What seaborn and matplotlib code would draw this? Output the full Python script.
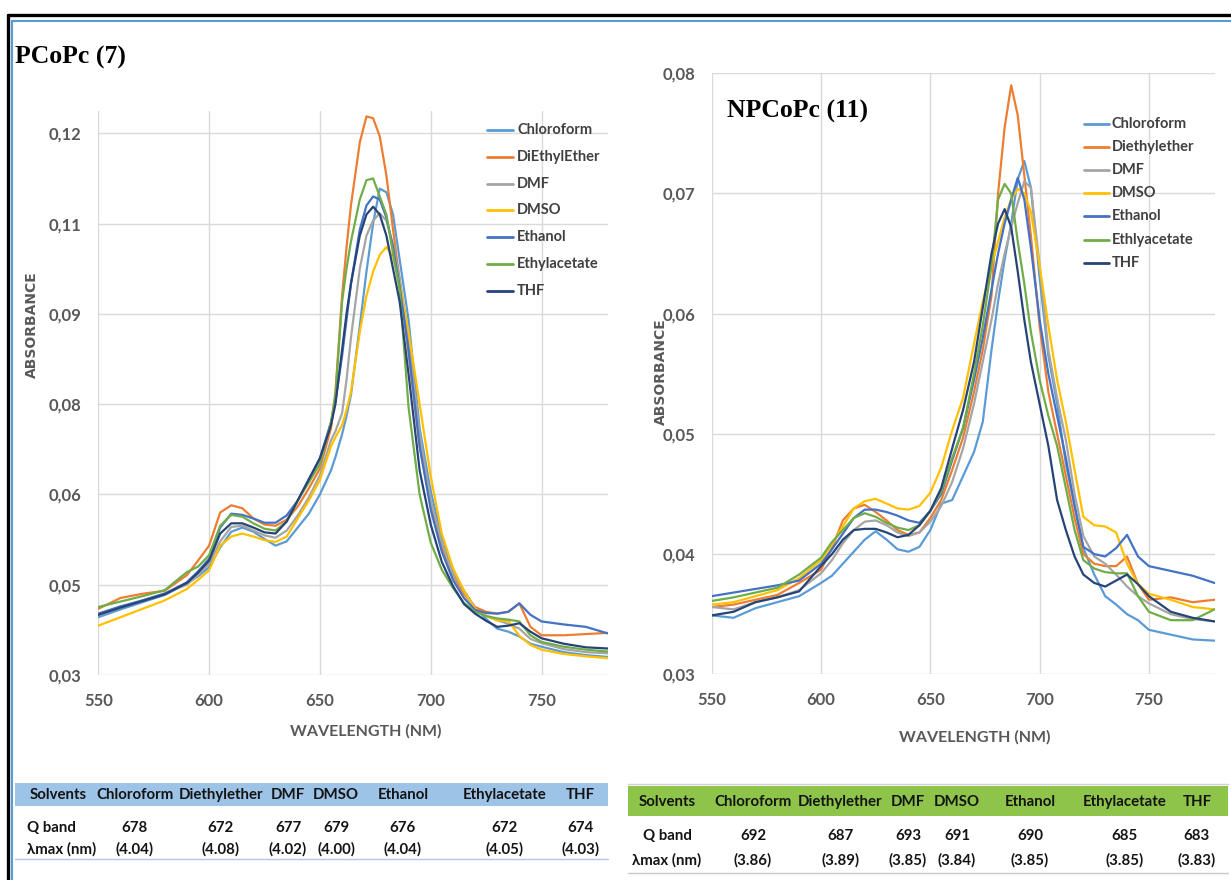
import pandas as pd
import matplotlib
matplotlib.use("Agg")
import matplotlib.pyplot as plt
from matplotlib.patches import Rectangle
from matplotlib.lines import Line2D
import seaborn as sns

# ---- spectra (wavelength nm / absorbance) ----
wl_7 = [550, 560, 570, 580, 590, 595, 600, 605, 610, 615, 620, 625, 630, 635, 640, 645,
        650, 655, 657, 660, 662, 664, 668, 671, 674, 677, 680, 683, 686, 690, 695, 700,
        705, 710, 715, 720, 725, 730, 735, 740, 745, 750, 760, 770, 780]
chloroform_7 = [0.0396, 0.0409, 0.0421, 0.0433, 0.0452, 0.0464, 0.0479, 0.0512, 0.0538, 0.0545,
                0.0538, 0.0526, 0.0515, 0.0522, 0.0545, 0.0568, 0.0600, 0.0640, 0.0662, 0.0700,
                0.0730, 0.0765, 0.0880, 0.0970, 0.1050, 0.1108, 0.1102, 0.1065, 0.0990, 0.0890,
                0.0710, 0.0605, 0.0530, 0.0470, 0.0440, 0.0412, 0.0393, 0.0377, 0.0372, 0.0364,
                0.0352, 0.0347, 0.0338, 0.0333, 0.0330]
diethylether_7 = [0.0410, 0.0428, 0.0435, 0.0440, 0.0466, 0.0490, 0.0515, 0.0570, 0.0582, 0.0577,
                  0.0560, 0.0550, 0.0548, 0.0558, 0.0580, 0.0610, 0.0643, 0.0710, 0.0770, 0.0930,
                  0.1010, 0.1080, 0.1185, 0.1228, 0.1225, 0.1195, 0.1130, 0.1040, 0.0955, 0.0835,
                  0.0680, 0.0585, 0.0512, 0.0465, 0.0435, 0.0413, 0.0405, 0.0402, 0.0405, 0.0419,
                  0.0380, 0.0366, 0.0366, 0.0368, 0.0370]
dmf_7 = [0.0399, 0.0412, 0.0424, 0.0436, 0.0450, 0.0466, 0.0485, 0.0522, 0.0546, 0.0548,
         0.0540, 0.0532, 0.0528, 0.0540, 0.0565, 0.0595, 0.0632, 0.0690, 0.0705, 0.0735,
         0.0790, 0.0860, 0.0975, 0.1030, 0.1055, 0.1067, 0.1055, 0.1015, 0.0960, 0.0860,
         0.0700, 0.0590, 0.0520, 0.0468, 0.0440, 0.0410, 0.0398, 0.0391, 0.0385, 0.0377,
         0.0360, 0.0353, 0.0343, 0.0338, 0.0336]
dmso_7 = [0.0382, 0.0396, 0.0410, 0.0424, 0.0443, 0.0458, 0.0474, 0.0515, 0.0530, 0.0535,
          0.0530, 0.0524, 0.0521, 0.0530, 0.0560, 0.0590, 0.0624, 0.0680, 0.0695, 0.0715,
          0.0740, 0.0770, 0.0870, 0.0930, 0.0970, 0.0998, 0.1011, 0.0995, 0.0950, 0.0870,
          0.0750, 0.0630, 0.0535, 0.0478, 0.0440, 0.0410, 0.0398, 0.0391, 0.0390, 0.0365,
          0.0350, 0.0342, 0.0335, 0.0331, 0.0328]
ethanol_7 = [0.0402, 0.0414, 0.0424, 0.0435, 0.0454, 0.0472, 0.0493, 0.0545, 0.0568, 0.0566,
             0.0560, 0.0553, 0.0553, 0.0565, 0.0590, 0.0625, 0.0660, 0.0720, 0.0755, 0.0830,
             0.0890, 0.0950, 0.1040, 0.1080, 0.1095, 0.1090, 0.1060, 0.1010, 0.0945, 0.0840,
             0.0680, 0.0575, 0.0505, 0.0458, 0.0428, 0.0408, 0.0403, 0.0402, 0.0405, 0.0419,
             0.0400, 0.0389, 0.0384, 0.0380, 0.0369]
ethylacetate_7 = [0.0413, 0.0422, 0.0431, 0.0441, 0.0471, 0.0480, 0.0499, 0.0548, 0.0566, 0.0563,
                  0.0552, 0.0543, 0.0540, 0.0555, 0.0590, 0.0620, 0.0651, 0.0720, 0.0765, 0.0920,
                  0.0975, 0.1020, 0.1090, 0.1122, 0.1125, 0.1095, 0.1065, 0.1000, 0.0940, 0.0745,
                  0.0600, 0.0520, 0.0475, 0.0445, 0.0420, 0.0405, 0.0398, 0.0394, 0.0392, 0.0389,
                  0.0366, 0.0355, 0.0347, 0.0342, 0.0339]
thf_7 = [0.0400, 0.0412, 0.0423, 0.0434, 0.0453, 0.0470, 0.0490, 0.0535, 0.0552, 0.0552,
         0.0545, 0.0537, 0.0535, 0.0555, 0.0590, 0.0625, 0.0660, 0.0715, 0.0750, 0.0840,
         0.0900, 0.0950, 0.1030, 0.1065, 0.1078, 0.1065, 0.1030, 0.0975, 0.0920, 0.0800,
         0.0640, 0.0550, 0.0488, 0.0448, 0.0418, 0.0402, 0.0390, 0.0380, 0.0382, 0.0386,
         0.0372, 0.0361, 0.0352, 0.0346, 0.0344]

wl_11 = [550, 560, 570, 580, 590, 600, 605, 610, 615, 620, 625, 630, 635, 640, 645, 650,
         655, 660, 665, 670, 674, 678, 681, 684, 687, 690, 693, 696, 700, 704, 708, 712,
         716, 720, 725, 730, 735, 740, 745, 750, 760, 770, 780]
chloroform_11 = [0.0349, 0.0347, 0.0355, 0.0360, 0.0365, 0.0376, 0.0382, 0.0392, 0.0402, 0.0412,
                 0.0419, 0.0412, 0.0404, 0.0402, 0.0406, 0.0420, 0.0442, 0.0445, 0.0465, 0.0485,
                 0.0510, 0.0570, 0.0610, 0.0645, 0.0675, 0.0712, 0.0727, 0.0705, 0.0630, 0.0565,
                 0.0525, 0.0475, 0.0440, 0.0405, 0.0383, 0.0365, 0.0358, 0.0350, 0.0345, 0.0337,
                 0.0333, 0.0329, 0.0328]
diethylether_11 = [0.0356, 0.0358, 0.0362, 0.0366, 0.0376, 0.0387, 0.0405, 0.0428, 0.0438, 0.0441,
                   0.0435, 0.0428, 0.0420, 0.0416, 0.0418, 0.0430, 0.0445, 0.0470, 0.0497, 0.0535,
                   0.0570, 0.0615, 0.0700, 0.0755, 0.0790, 0.0765, 0.0715, 0.0665, 0.0590, 0.0535,
                   0.0500, 0.0465, 0.0430, 0.0400, 0.0392, 0.0390, 0.0390, 0.0398, 0.0375, 0.0362,
                   0.0364, 0.0360, 0.0362]
dmf_11 = [0.0356, 0.0354, 0.0360, 0.0364, 0.0370, 0.0384, 0.0395, 0.0409, 0.0420, 0.0427,
          0.0428, 0.0424, 0.0418, 0.0415, 0.0418, 0.0427, 0.0440, 0.0460, 0.0488, 0.0525,
          0.0560, 0.0595, 0.0625, 0.0650, 0.0672, 0.0692, 0.0710, 0.0705, 0.0640, 0.0570,
          0.0530, 0.0495, 0.0450, 0.0415, 0.0398, 0.0392, 0.0383, 0.0373, 0.0365, 0.0359,
          0.0350, 0.0346, 0.0344]
dmso_11 = [0.0358, 0.0360, 0.0365, 0.0370, 0.0380, 0.0395, 0.0408, 0.0423, 0.0438, 0.0444,
           0.0446, 0.0442, 0.0438, 0.0437, 0.0440, 0.0451, 0.0472, 0.0503, 0.0530, 0.0575,
           0.0610, 0.0640, 0.0660, 0.0680, 0.0695, 0.0704, 0.0700, 0.0685, 0.0640, 0.0590,
           0.0545, 0.0510, 0.0470, 0.0431, 0.0424, 0.0423, 0.0418, 0.0392, 0.0375, 0.0367,
           0.0362, 0.0356, 0.0354]
ethanol_11 = [0.0365, 0.0368, 0.0371, 0.0374, 0.0378, 0.0392, 0.0404, 0.0417, 0.0430, 0.0437,
              0.0437, 0.0435, 0.0432, 0.0428, 0.0426, 0.0436, 0.0450, 0.0478, 0.0505, 0.0545,
              0.0580, 0.0620, 0.0650, 0.0675, 0.0695, 0.0713, 0.0695, 0.0655, 0.0595, 0.0550,
              0.0515, 0.0480, 0.0440, 0.0406, 0.0400, 0.0398, 0.0405, 0.0416, 0.0398, 0.0390,
              0.0386, 0.0382, 0.0376]
ethlyacetate_11 = [0.0361, 0.0364, 0.0368, 0.0372, 0.0383, 0.0397, 0.0410, 0.0420, 0.0430, 0.0434,
                   0.0431, 0.0426, 0.0422, 0.0420, 0.0424, 0.0436, 0.0452, 0.0480, 0.0505, 0.0550,
                   0.0590, 0.0640, 0.0695, 0.0708, 0.0700, 0.0660, 0.0625, 0.0585, 0.0545, 0.0515,
                   0.0490, 0.0455, 0.0420, 0.0395, 0.0388, 0.0385, 0.0384, 0.0384, 0.0365, 0.0352,
                   0.0345, 0.0345, 0.0354]
thf_11 = [0.0349, 0.0352, 0.0360, 0.0364, 0.0369, 0.0390, 0.0400, 0.0412, 0.0420, 0.0421,
          0.0421, 0.0418, 0.0414, 0.0416, 0.0424, 0.0436, 0.0455, 0.0488, 0.0520, 0.0560,
          0.0605, 0.0650, 0.0675, 0.0687, 0.0672, 0.0635, 0.0595, 0.0560, 0.0525, 0.0490,
          0.0445, 0.0420, 0.0398, 0.0383, 0.0376, 0.0373, 0.0378, 0.0383, 0.0375, 0.0365,
          0.0352, 0.0347, 0.0344]

names_7 = ["Chloroform", "DiEthylEther", "DMF", "DMSO", "Ethanol", "Ethylacetate", "THF"]
names_11 = ["Chloroform", "Diethylether", "DMF", "DMSO", "Ethanol", "Ethlyacetate", "THF"]
colors = ["#5B9BD5", "#ED7D31", "#A5A5A5", "#FFC000", "#4472C4", "#70AD47", "#264478"]

yticks_7 = [0.03, 0.045, 0.06, 0.075, 0.09, 0.105, 0.12]
ylabels_7 = ["0,03", "0,05", "0,06", "0,08", "0,09", "0,11", "0,12"]
yticks_11 = [0.03, 0.04, 0.05, 0.06, 0.07, 0.08]
ylabels_11 = ["0,03", "0,04", "0,05", "0,06", "0,07", "0,08"]
xticks = [550, 600, 650, 700, 750]

# table contents
tab_header = ["Solvents", "Chloroform", "Diethylether", "DMF", "DMSO", "Ethanol", "Ethylacetate", "THF"]
qband_7 = ["678", "672", "677", "679", "676", "672", "674"]
loge_7 = ["(4.04)", "(4.08)", "(4.02)", "(4.00)", "(4.04)", "(4.05)", "(4.03)"]
qband_11 = ["692", "687", "693", "691", "690", "685", "683"]
loge_11 = ["(3.86)", "(3.89)", "(3.85)", "(3.84)", "(3.85)", "(3.85)", "(3.83)"]

sns.set_theme(style="white")
plt.rcParams["font.family"] = ["Lato", "DejaVu Sans"]

W, H = 1231, 880
fig = plt.figure(figsize=(W / 100, H / 100), dpi=100)


def fx(x):
    return x / W


def fy(y):
    return 1 - y / H


def frame(wl, names, series):
    parts = [pd.DataFrame({"wl": wl, "A": s, "solvent": n}) for n, s in zip(names, series)]
    return pd.concat(parts, ignore_index=True)


def style_axes(ax, ylim, yticks, ylabels):
    ax.set_xlim(550, 780)
    ax.set_ylim(*ylim)
    ax.set_xticks(xticks)
    ax.set_yticks(yticks)
    ax.set_yticklabels(ylabels)
    ax.grid(True, color="#D9D9D9", lw=1.0)
    ax.set_axisbelow(True)
    for s in ax.spines.values():
        s.set_visible(False)
    ax.tick_params(axis="both", length=0, labelsize=12, labelcolor="#595959")
    ax.tick_params(axis="x", pad=13)
    ax.tick_params(axis="y", pad=12)
    for lbl in ax.get_xticklabels() + ax.get_yticklabels():
        lbl.set_fontweight("bold")
    ax.set_xlabel("")
    ax.set_ylabel("")


def legend(names, x_line, x_text, y0, dy):
    for i, (n, c) in enumerate(zip(names, colors)):
        y = y0 + i * dy
        fig.add_artist(Line2D([fx(x_line[0]), fx(x_line[1])], [fy(y), fy(y)],
                              color=c, lw=2.0, transform=fig.transFigure))
        fig.text(fx(x_text), fy(y), n, ha="left", va="center", fontsize=10.5,
                 fontweight="bold", color="#404040")


# ---- left panel ----
ax1 = fig.add_axes([fx(98.3), fy(675), fx(608 - 98.3), (675 - 111) / H])
df7 = frame(wl_7, names_7, [chloroform_7, diethylether_7, dmf_7, dmso_7,
                            ethanol_7, ethylacetate_7, thf_7])
sns.lineplot(data=df7, x="wl", y="A", hue="solvent", hue_order=names_7, palette=colors,
             estimator=None, sort=False, linewidth=1.6, legend=False, ax=ax1)
style_axes(ax1, (0.03, 0.1237), yticks_7, ylabels_7)
legend(names_7, (487, 513), 517, 130, 26.8)

# ---- right panel ----
ax2 = fig.add_axes([fx(711.7), fy(674.3), fx(1214.5 - 711.7), (674.3 - 73.3) / H])
df11 = frame(wl_11, names_11, [chloroform_11, diethylether_11, dmf_11, dmso_11,
                               ethanol_11, ethlyacetate_11, thf_11])
sns.lineplot(data=df11, x="wl", y="A", hue="solvent", hue_order=names_11, palette=colors,
             estimator=None, sort=False, linewidth=1.6, legend=False, ax=ax2)
style_axes(ax2, (0.03, 0.08), yticks_11, ylabels_11)
legend(names_11, (1084, 1109), 1112, 124, 23.1)

# titles and axis titles
fig.text(fx(15), fy(57), "PCoPc (7)", ha="left", va="center", fontsize=18.5,
         fontweight="bold", family="Liberation Serif", color="black")
fig.text(fx(727), fy(111), "NPCoPc (11)", ha="left", va="center", fontsize=18.5,
         fontweight="bold", family="Liberation Serif", color="black")
for x, y in [(32, 325), (661, 372)]:
    fig.text(fx(x), fy(y), "ABSORBANCE", rotation=90, ha="center", va="center",
             fontsize=10, fontweight="bold", family="DejaVu Sans", color="#595959")
fig.text(fx(366), fy(731), "WAVELENGTH (NM)", ha="center", va="center",
         fontsize=11.5, fontweight="bold", color="#595959")
fig.text(fx(975), fy(737), "WAVELENGTH (NM)", ha="center", va="center",
         fontsize=11.5, fontweight="bold", color="#595959")

# ---- tables ----
tc = "#141414"
fs_tab = 10.8
fig.add_artist(Rectangle((fx(15), fy(806)), fx(608 - 15), (806 - 783) / H,
                         facecolor="#9DC3E6", edgecolor="none", transform=fig.transFigure))
fig.add_artist(Line2D([fx(15), fx(608)], [fy(859), fy(859)], color="#B4C7E7", lw=1,
                      transform=fig.transFigure))
cols_7 = [58, 135, 221, 288, 336, 403, 505, 580]
for x, t in zip(cols_7, tab_header):
    fig.text(fx(x), fy(795), t, ha="center", va="center", fontsize=fs_tab,
             fontweight="bold", color=tc)
fig.text(fx(27), fy(828), "Q band", ha="left", va="center", fontsize=fs_tab,
         fontweight="bold", color=tc)
fig.text(fx(27), fy(849), "λmax (nm)", ha="left", va="center", fontsize=fs_tab,
         fontweight="bold", color=tc)
for x, q, e in zip(cols_7[1:], qband_7, loge_7):
    fig.text(fx(x), fy(828), q, ha="center", va="center", fontsize=fs_tab,
             fontweight="bold", color=tc)
    fig.text(fx(x), fy(849), e, ha="center", va="center", fontsize=fs_tab,
             fontweight="bold", color=tc)

fig.add_artist(Rectangle((fx(628), fy(816)), fx(1228 - 628), (816 - 786) / H,
                         facecolor="#8DC449", edgecolor="none", transform=fig.transFigure))
fig.add_artist(Line2D([fx(628), fx(1228)], [fy(784), fy(784)], color="#D0D0D0", lw=1,
                      transform=fig.transFigure))
fig.add_artist(Line2D([fx(628), fx(1228)], [fy(873), fy(873)], color="#C8C8C8", lw=1,
                      transform=fig.transFigure))
cols_11 = [667, 753, 840, 908, 957, 1030, 1125, 1197]
for x, t in zip(cols_11, tab_header):
    fig.text(fx(x), fy(802), t, ha="center", va="center", fontsize=fs_tab,
             fontweight="bold", color=tc)
fig.text(fx(667), fy(836), "Q band", ha="center", va="center", fontsize=fs_tab,
         fontweight="bold", color=tc)
fig.text(fx(667), fy(860), "λmax (nm)", ha="center", va="center", fontsize=fs_tab,
         fontweight="bold", color=tc)
for x, q, e in zip(cols_11[1:], qband_11, loge_11):
    fig.text(fx(x), fy(836), q, ha="center", va="center", fontsize=fs_tab,
             fontweight="bold", color=tc)
    fig.text(fx(x), fy(860), e, ha="center", va="center", fontsize=fs_tab,
             fontweight="bold", color=tc)

# ---- frame borders ----
fig.add_artist(Line2D([fx(8), fx(1231)], [fy(15), fy(15)], color="black", lw=2.4,
                      transform=fig.transFigure))
fig.add_artist(Line2D([fx(8), fx(8)], [fy(15), fy(880)], color="black", lw=2.4,
                      transform=fig.transFigure))
fig.add_artist(Line2D([fx(12), fx(1231)], [fy(21), fy(21)], color="#5B9BD5", lw=1.5,
                      transform=fig.transFigure))
fig.add_artist(Line2D([fx(12), fx(12)], [fy(21), fy(880)], color="#5B9BD5", lw=1.5,
                      transform=fig.transFigure))

fig.savefig("out.png", dpi=100, facecolor="white")
